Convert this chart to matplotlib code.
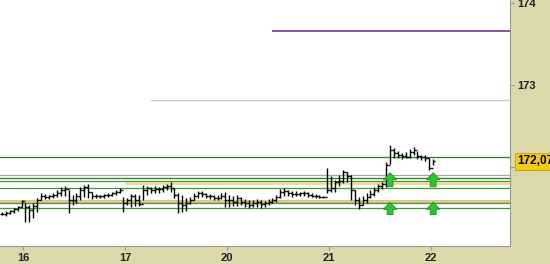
import matplotlib as mlp
mlp.use('Agg')
import matplotlib.pyplot as plt

# OHLC bars (price), one per bar index; open = previous close
highs = [171.45, 171.46, 171.48, 171.50, 171.52, 171.60, 171.56, 171.54, 171.56, 171.62,
         171.68, 171.67, 171.66, 171.68, 171.72, 171.76, 171.77, 171.72, 171.66, 171.68,
         171.76, 171.78, 171.79, 171.70, 171.67, 171.66, 171.67, 171.68, 171.70, 171.72,
         171.74, 171.63, 171.62, 171.67, 171.67, 171.66, 171.78, 171.77, 171.76, 171.77,
         171.76, 171.78, 171.79, 171.82, 171.74, 171.68, 171.66, 171.62, 171.63, 171.68,
         171.71, 171.71, 171.68, 171.67, 171.66, 171.66, 171.68, 171.70, 171.66, 171.65,
         171.66, 171.63, 171.61, 171.60, 171.60, 171.61, 171.60, 171.59, 171.61, 171.62,
         171.66, 171.73, 171.74, 171.72, 171.71, 171.71, 171.70, 171.71, 171.70, 171.68,
         171.67, 171.66, 171.65, 171.99, 171.89, 171.84, 171.90, 171.96, 171.94, 171.90,
         171.72, 171.63, 171.65, 171.68, 171.72, 171.76, 171.79, 171.82, 172.06, 172.27,
         172.23, 172.20, 172.17, 172.18, 172.22, 172.24, 172.20, 172.15, 172.15, 172.11,
         172.10]
lows = [171.41, 171.40, 171.43, 171.44, 171.46, 171.51, 171.33, 171.33, 171.38, 171.45,
        171.60, 171.61, 171.61, 171.62, 171.63, 171.65, 171.65, 171.44, 171.54, 171.56,
        171.60, 171.63, 171.62, 171.61, 171.62, 171.62, 171.62, 171.63, 171.65, 171.66,
        171.68, 171.45, 171.54, 171.51, 171.52, 171.52, 171.60, 171.66, 171.68, 171.68,
        171.68, 171.70, 171.72, 171.70, 171.62, 171.44, 171.45, 171.46, 171.55, 171.60,
        171.62, 171.63, 171.62, 171.61, 171.60, 171.60, 171.61, 171.51, 171.51, 171.52,
        171.52, 171.54, 171.51, 171.50, 171.51, 171.51, 171.50, 171.51, 171.54, 171.56,
        171.57, 171.62, 171.65, 171.65, 171.63, 171.65, 171.65, 171.65, 171.63, 171.63,
        171.62, 171.62, 171.62, 171.68, 171.70, 171.70, 171.77, 171.81, 171.82, 171.60,
        171.54, 171.49, 171.54, 171.56, 171.62, 171.65, 171.70, 171.73, 171.76, 172.04,
        172.11, 172.11, 172.10, 172.11, 172.11, 172.15, 172.10, 172.09, 172.07, 171.96,
        172.02]
closes = [171.43, 171.44, 171.46, 171.49, 171.51, 171.59, 171.51, 171.48, 171.52, 171.60,
          171.65, 171.63, 171.65, 171.66, 171.68, 171.72, 171.73, 171.60, 171.60, 171.65,
          171.72, 171.76, 171.70, 171.65, 171.65, 171.65, 171.66, 171.66, 171.68, 171.70,
          171.72, 171.56, 171.60, 171.65, 171.60, 171.55, 171.72, 171.74, 171.72, 171.73,
          171.73, 171.76, 171.77, 171.74, 171.66, 171.56, 171.54, 171.56, 171.60, 171.65,
          171.68, 171.67, 171.65, 171.65, 171.62, 171.62, 171.65, 171.60, 171.60, 171.57,
          171.62, 171.57, 171.56, 171.54, 171.56, 171.57, 171.55, 171.56, 171.57, 171.60,
          171.63, 171.70, 171.71, 171.68, 171.67, 171.67, 171.68, 171.68, 171.66, 171.65,
          171.65, 171.63, 171.63, 171.72, 171.74, 171.82, 171.83, 171.94, 171.89, 171.72,
          171.60, 171.54, 171.60, 171.63, 171.67, 171.72, 171.77, 171.79, 172.02, 172.21,
          172.17, 172.15, 172.13, 172.12, 172.18, 172.21, 172.13, 172.12, 172.11, 171.99,
          172.07]

last_price = 172.07
day_labels = ['16', '17', '20', '21', '22']
day_pos = [5.4, 31.4, 57.4, 83.4, 109.4]

# horizontal levels: (price, start index, colour, width)
levels = [173.66, 172.82, 172.12, 171.90, 171.87, 171.83, 171.80, 171.75, 171.59, 171.565, 171.50]
level_start = [69, 37.8, -1, -1, -1, -1, 31.3, -1, -1, -1, -1]
level_colors = ['#6a2080', '#cccccc', '#2f7a2a', '#a8a8a8', '#2f7a2a', '#3f9a3a',
                '#e6e08c', '#3f9a3a', '#e2c48a', '#3f9a3a', '#3f9a3a']
level_widths = [1.1, 1.0, 0.9, 0.9, 0.9, 0.9, 2.0, 0.9, 2.2, 0.9, 0.9]

# green up arrows
arrow_x = [99, 110, 99, 110]
arrow_bottom = [171.76, 171.76, 171.42, 171.42]
arrow_top = [171.93, 171.93, 171.57, 171.57]

BG = '#dbd8aa'

fig = plt.figure(figsize=(5.5, 2.64), dpi=100, facecolor=BG)
ax = fig.add_axes([0.0, 18 / 264, 510 / 550, 246 / 264])
ax.set_facecolor('white')

xmax = 129.6
for lv, st, c, w in zip(levels, level_start, level_colors, level_widths):
    ax.hlines(lv, st, xmax, color=c, lw=w, zorder=1)

idx = list(range(len(closes)))
opens = [closes[0]] + closes[:-1]
ax.vlines(idx, lows, highs, color='black', lw=1.0, zorder=3)
ax.hlines(opens, [i - 0.5 for i in idx], idx, color='black', lw=1.0, zorder=3)
ax.hlines(closes, idx, [i + 0.5 for i in idx], color='black', lw=1.0, zorder=3)

for x, b, t in zip(arrow_x, arrow_bottom, arrow_top):
    ax.annotate('', xy=(x, t), xytext=(x, b),
                arrowprops=dict(arrowstyle='simple,head_width=0.95,head_length=0.5,tail_width=0.42',
                                fc='#33c233', ec='#1e8a1e', lw=0.6,
                                shrinkA=0, shrinkB=0, mutation_scale=10), zorder=4)

ax.set_xlim(-0.5, xmax)
ax.set_ylim(171.037, 174.037)

ax.set_xticks(day_pos)
ax.set_xticklabels(day_labels)
ax.set_yticks([172, 173, 174])
ax.yaxis.tick_right()
for s in ['top', 'left']:
    ax.spines[s].set_visible(False)
for s in ['bottom', 'right']:
    ax.spines[s].set_color('#9a9a9a')
ax.tick_params(axis='both', length=3, color='#9a9a9a', labelsize=8, pad=2)
for l in ax.get_xticklabels() + ax.get_yticklabels():
    l.set_fontfamily('Liberation Sans')
    l.set_fontweight('bold')
    l.set_color('#202020')

# last price tag
ax.annotate('172,07', xy=(1.0, last_price), xycoords=('axes fraction', 'data'),
            xytext=(5, 0), textcoords='offset points', va='center', ha='left',
            fontsize=8.5, fontweight='bold', family='Liberation Sans', color='black',
            bbox=dict(boxstyle='square,pad=0.2', fc='#f6cc10', ec='#c8a000', lw=0.6),
            annotation_clip=False, zorder=6)

fig.savefig('out.png', dpi=100, facecolor=BG)
